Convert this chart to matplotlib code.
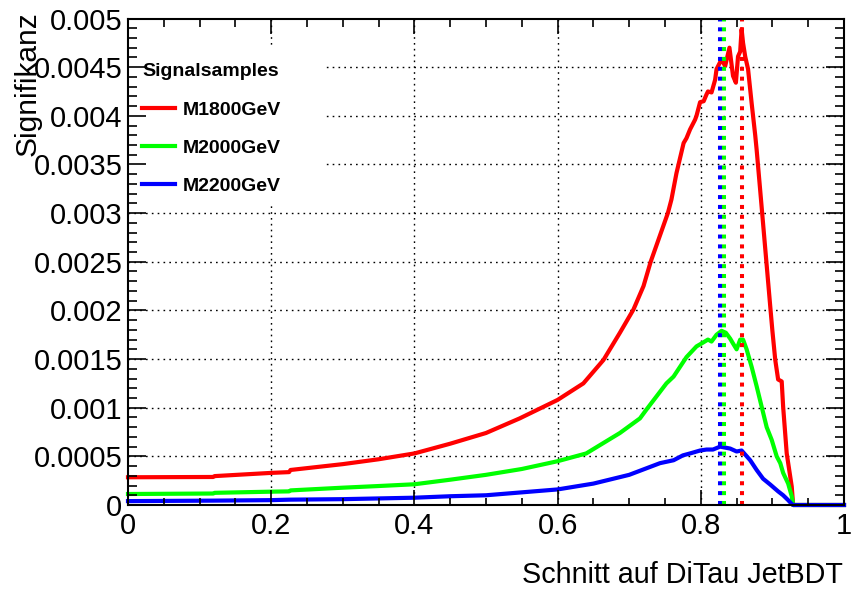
import matplotlib
matplotlib.use("Agg")
import matplotlib.pyplot as plt
from matplotlib.patches import Rectangle
from matplotlib.ticker import MultipleLocator, FuncFormatter
import numpy as np

plt.rcParams['font.family'] = ['Liberation Sans', 'DejaVu Sans']

# ---------------- data ----------------
series_labels = ["M1800GeV", "M2000GeV", "M2200GeV"]
series_colors = ["#ff0000", "#00ff00", "#0000ff"]

x_red = [0.0, 0.119, 0.121, 0.2, 0.225, 0.227, 0.3, 0.35, 0.4, 0.45, 0.5, 0.547, 0.6, 0.636,
         0.664, 0.687, 0.706, 0.72, 0.73, 0.742, 0.754, 0.759, 0.766, 0.776, 0.78, 0.785,
         0.792, 0.794, 0.799, 0.804, 0.808, 0.81, 0.815, 0.82, 0.822, 0.829, 0.834, 0.84,
         0.845, 0.849, 0.852, 0.855, 0.857, 0.859, 0.862, 0.866, 0.871, 0.876, 0.878, 0.883,
         0.887, 0.891, 0.897, 0.9, 0.904, 0.908, 0.913, 0.915, 0.92, 0.927, 0.929, 1.0]
y_red = [0.000285, 0.000288, 0.000297, 0.00033, 0.000338, 0.00036, 0.00042, 0.00047, 0.00053,
         0.00063, 0.00074, 0.00089, 0.00108, 0.00125, 0.00149, 0.00177, 0.00201, 0.00225,
         0.0025, 0.00275, 0.003, 0.00314, 0.00341, 0.00372, 0.00377, 0.00386, 0.00396, 0.0040,
         0.00414, 0.00415, 0.00422, 0.00425, 0.00424, 0.00437, 0.00448, 0.00458, 0.00451,
         0.0047, 0.00441, 0.00434, 0.00461, 0.00466, 0.00489, 0.00475, 0.00461, 0.00448,
         0.00413, 0.0038, 0.00365, 0.00323, 0.00289, 0.00255, 0.00204, 0.00179, 0.00149,
         0.00129, 0.00127, 0.00101, 0.00053, 0.00019, 0.0, 0.0]

x_green = [0.0, 0.119, 0.121, 0.2, 0.225, 0.227, 0.3, 0.35, 0.4, 0.45, 0.5, 0.55, 0.6, 0.64,
           0.687, 0.715, 0.724, 0.752, 0.762, 0.78, 0.794, 0.801, 0.81, 0.815, 0.822, 0.829,
           0.835, 0.841, 0.845, 0.85, 0.855, 0.859, 0.864, 0.871, 0.878, 0.885, 0.892, 0.899,
           0.906, 0.911, 0.915, 0.922, 0.927, 0.929, 1.0]
y_green = [0.000113, 0.000118, 0.000125, 0.000137, 0.00014, 0.00015, 0.000178, 0.000195,
           0.000213, 0.00026, 0.00031, 0.00037, 0.00045, 0.00053, 0.00074, 0.00089, 0.00098,
           0.00125, 0.00132, 0.00152, 0.00163, 0.00166, 0.0017, 0.00168, 0.00175, 0.00179,
           0.00177, 0.00171, 0.00166, 0.0016, 0.0017, 0.0017, 0.0016, 0.00142, 0.00122,
           0.00101, 0.0008, 0.00067, 0.0005, 0.00043, 0.00033, 0.00022, 0.00009, 0.0, 0.0]

x_blue = [0.0, 0.12, 0.2, 0.227, 0.3, 0.4, 0.45, 0.5, 0.55, 0.6, 0.65, 0.7, 0.743, 0.762, 0.775,
          0.785, 0.799, 0.808, 0.817, 0.827, 0.841, 0.85, 0.857, 0.869, 0.878, 0.887, 0.897,
          0.908, 0.915, 0.922, 0.927, 0.929, 1.0]
y_blue = [0.00004, 0.000045, 0.00005, 0.000055, 0.00006, 0.000075, 0.00009, 0.0001, 0.00013,
          0.00016, 0.00022, 0.00031, 0.00043, 0.00046, 0.00051, 0.00053, 0.00056, 0.00057,
          0.00057, 0.0006, 0.00058, 0.00055, 0.00056, 0.00046, 0.00036, 0.00027, 0.00021,
          0.00014, 0.0001, 0.00005, 0.00001, 0.0, 0.0]

# optimal cut positions (vertical dashed lines) -- drawn in order blue, green, red
cut_values = [0.827, 0.833, 0.857]
cut_colors = ["#0000ff", "#00ff00", "#ff0000"]

x_ticks = [0, 0.2, 0.4, 0.6, 0.8, 1.0]
y_ticks = [0, 0.0005, 0.001, 0.0015, 0.002, 0.0025, 0.003, 0.0035, 0.004, 0.0045, 0.005]

# ---------------- figure ----------------
W, H = 851, 595
fig = plt.figure(figsize=(W / 100, H / 100), dpi=100)
L, R, T, B = 128, 844, 18.5, 505
ax = fig.add_axes([L / W, 1 - B / H, (R - L) / W, (B - T) / H])
ax.set_xlim(0, 1)
ax.set_ylim(0, 0.005)

# grid (manual so the legend box can sit above it but below the ticks)
for xv in x_ticks[1:-1]:
    ax.axvline(xv, color='black', lw=1.0, linestyle=(0, (1.2, 3.0)), zorder=0.6)
for yv in y_ticks[1:-1]:
    ax.axhline(yv, color='black', lw=1.0, linestyle=(0, (1.2, 3.0)), zorder=0.6)

# white legend background
ax.add_patch(Rectangle((0, 0.617), 0.275, 0.323, transform=ax.transAxes,
                       facecolor='white', edgecolor='none', zorder=0.8))

xs = [x_red, x_green, x_blue]
ys = [y_red, y_green, y_blue]
for xx, yy, c, lab in zip(xs, ys, series_colors, series_labels):
    ax.plot(xx, yy, color=c, lw=3.0, label=lab, zorder=2, clip_on=False)

for cv, cc in zip(cut_values, cut_colors):
    ax.axvline(cv, color=cc, lw=2.9, linestyle=(0, (1.0, 1.45)), zorder=3)

ax.set_axisbelow(False)
for sp in ax.spines.values():
    sp.set_linewidth(1.5)
    sp.set_zorder(5)

ax.xaxis.set_major_locator(MultipleLocator(0.2))
ax.xaxis.set_minor_locator(MultipleLocator(0.05))
ax.yaxis.set_major_locator(MultipleLocator(0.0005))
ax.yaxis.set_minor_locator(MultipleLocator(0.0001))
fmt = FuncFormatter(lambda v, p: "%g" % round(v, 6))
ax.xaxis.set_major_formatter(fmt)
ax.yaxis.set_major_formatter(fmt)

ax.tick_params(which='both', direction='in', top=True, right=True, width=1.2, labelsize=21)
ax.tick_params(axis='x', which='major', length=10.8, pad=5)
ax.tick_params(axis='x', which='minor', length=5.4)
ax.tick_params(axis='y', which='major', length=13, pad=4)
ax.tick_params(axis='y', which='minor', length=6.5)

leg = ax.legend(loc='upper left', bbox_to_anchor=(14 / (R - L), 1 - 45 / (B - T)),
                frameon=False, title="Signalsamples",
                prop={'family': 'Liberation Sans', 'weight': 'bold', 'size': 14},
                title_fontproperties={'family': 'Liberation Sans', 'weight': 'bold', 'size': 14},
                alignment='left', handlelength=1.7, handletextpad=0.4, labelspacing=1.05,
                borderaxespad=0, borderpad=0)
leg.set_zorder(6)

fig.text(843 / W, 1 - 583 / H, "Schnitt auf DiTau JetBDT", ha='right', va='baseline',
         fontsize=20.7)
fig.text(28 / W, 1 - 11 / H, "Signifikanz", ha='center', va='top', rotation=90,
         fontsize=21.5)

fig.savefig("out.png", dpi=100)
